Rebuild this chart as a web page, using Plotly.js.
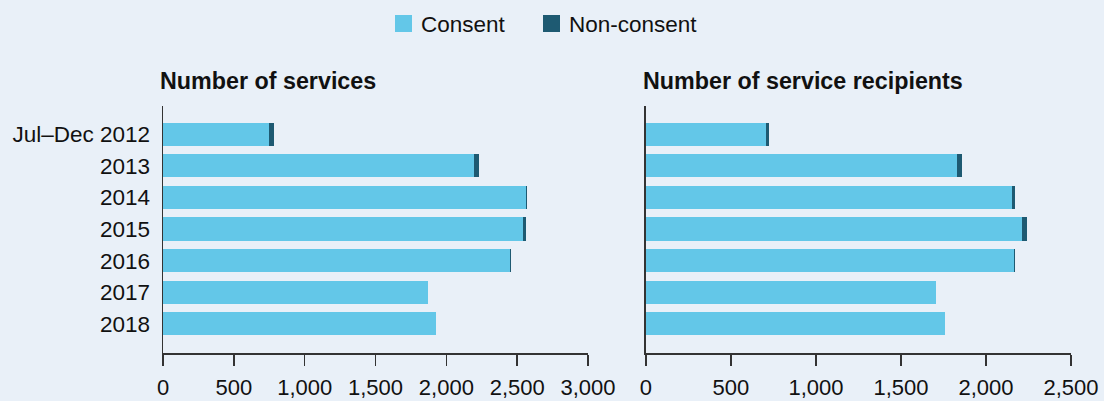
<!DOCTYPE html>
<html>
<head>
<meta charset="utf-8">
<script src="https://cdn.plot.ly/plotly-3.0.1.min.js"></script>
<style>html,body{margin:0;padding:0;background:#E9F0F8;}#chart{width:1104px;height:401px;}</style>
</head>
<body>
<div id="chart"></div>
<script>
const categories = ["Jul\u2013Dec 2012", "2013", "2014", "2015", "2016", "2017", "2018"];
const servicesConsent = [746, 2193, 2565, 2539, 2452, 1868, 1925];
const servicesNonConsent = [35, 35, 5, 20, 3, 0, 0];
const recipientsConsent = [706, 1829, 2153, 2212, 2165, 1706, 1759];
const recipientsNonConsent = [18, 30, 18, 29, 3, 0, 0];
const seriesNames = ["Consent", "Non-consent"];
const seriesColors = ["#63C7E8", "#1E5A72"];
const panelTitles = ["Number of services", "Number of service recipients"];
const xTicksLeft = [0, 500, 1000, 1500, 2000, 2500, 3000];
const xTicksRight = [0, 500, 1000, 1500, 2000, 2500];

const FONT = "Liberation Sans, Arial, sans-serif";
function bar(x, name, color, xa, ya) {
  return {type: "bar", orientation: "h", y: categories, x: x, name: name,
    marker: {color: color, line: {width: 0}}, width: 0.73,
    xaxis: xa, yaxis: ya, showlegend: false, hoverinfo: "x+y+name"};
}
const data = [
  bar(servicesConsent, seriesNames[0], seriesColors[0], "x", "y"),
  bar(servicesNonConsent, seriesNames[1], seriesColors[1], "x", "y"),
  bar(recipientsConsent, seriesNames[0], seriesColors[0], "x2", "y2"),
  bar(recipientsNonConsent, seriesNames[1], seriesColors[1], "x2", "y2")
];
function fmt(v){return v.toLocaleString("en-US");}
const xCommon = {showgrid: false, zeroline: false, showline: true, linecolor: "#333", linewidth: 1.5,
  ticks: "outside", ticklen: 11, tickwidth: 1.5, tickcolor: "#333", ticklabelstandoff: 3,
  tickfont: {family: FONT, size: 22, color: "#111"}};
const yCommon = {type: "category", categoryorder: "array", categoryarray: categories,
  range: [6.92, -0.89], showgrid: false, zeroline: false, showline: true, linecolor: "#333",
  linewidth: 1.5, ticks: "", ticklabelstandoff: 7, tickfont: {family: FONT, size: 22.5, color: "#111"}};
const plotW = 1104 - 163 - 33, plotH = 401 - 106 - 48;
function px(x){return (x - 163) / plotW;}
function py(y){return (401 - 48 - y) / plotH;}
const layout = {
  width: 1104, height: 401, barmode: "stack",
  paper_bgcolor: "#E9F0F8", plot_bgcolor: "#E9F0F8",
  margin: {l: 163, r: 33, t: 106, b: 48},
  font: {family: FONT, color: "#111"},
  xaxis: Object.assign({}, xCommon, {domain: [0, 0.4681], range: [0, 3000], tickvals: xTicksLeft, ticktext: xTicksLeft.map(fmt), anchor: "y"}),
  xaxis2: Object.assign({}, xCommon, {domain: [0.5319, 1], range: [0, 2500], tickvals: xTicksRight, ticktext: xTicksRight.map(fmt), anchor: "y2"}),
  yaxis: Object.assign({}, yCommon, {anchor: "x"}),
  yaxis2: Object.assign({}, yCommon, {anchor: "x2", showticklabels: false}),
  showlegend: false,
  shapes: [
    {type: "rect", xref: "paper", yref: "paper", x0: px(395), x1: px(412), y0: py(32), y1: py(15), line: {width: 0}, fillcolor: seriesColors[0]},
    {type: "rect", xref: "paper", yref: "paper", x0: px(543), x1: px(560), y0: py(32), y1: py(15), line: {width: 0}, fillcolor: seriesColors[1]}
  ],
  annotations: [
    {xref: "paper", yref: "paper", x: px(419), y: py(24), xanchor: "left", yanchor: "middle", showarrow: false, text: seriesNames[0], font: {family: FONT, size: 22.5, color: "#111"}},
    {xref: "paper", yref: "paper", x: px(567), y: py(24), xanchor: "left", yanchor: "middle", showarrow: false, text: seriesNames[1], font: {family: FONT, size: 22.5, color: "#111"}},
    {xref: "paper", yref: "paper", x: px(158), y: py(81), xanchor: "left", yanchor: "middle", showarrow: false, text: "<b>" + panelTitles[0] + "</b>", font: {family: FONT, size: 23.3, color: "#111"}},
    {xref: "paper", yref: "paper", x: px(641), y: py(81), xanchor: "left", yanchor: "middle", showarrow: false, text: "<b>" + panelTitles[1] + "</b>", font: {family: FONT, size: 23.3, color: "#111"}}
  ]
};
Plotly.newPlot("chart", data, layout, {displayModeBar: false, staticPlot: true});
</script>
</body>
</html>
